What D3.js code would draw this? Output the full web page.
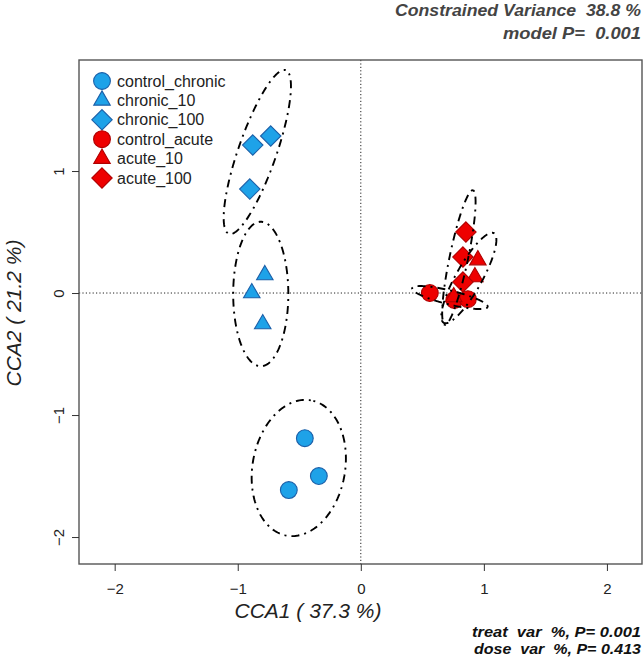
<!DOCTYPE html>
<html><head><meta charset="utf-8">
<script src="https://cdn.jsdelivr.net/npm/d3@7"></script>
<style>
body{margin:0;background:#fff}
svg{display:block}
text{font-family:"Liberation Sans",Arial,Helvetica,sans-serif}
</style>
</head><body>
<svg id="chart" width="644" height="662"></svg>
<script>
// ---------------- data ----------------
const groups = ["control_chronic","chronic_10","chronic_100","control_acute","acute_10","acute_100"];
const groupTreat = ["chronic","chronic","chronic","acute","acute","acute"];
const groupDose = ["control","10","100","control","10","100"];

const siteGroup = [
  "control_chronic","control_chronic","control_chronic",
  "chronic_10","chronic_10","chronic_10",
  "chronic_100","chronic_100","chronic_100",
  "control_acute","control_acute","control_acute",
  "acute_10","acute_10","acute_10",
  "acute_100","acute_100","acute_100"
];
const cca1 = [-0.455,-0.341,-0.585, -0.78,-0.886,-0.797, -0.878,-0.732,-0.902, 0.561,0.76,0.87, 0.951,0.927,0.755, 0.854,0.830,0.830];
const cca2 = [-1.19,-1.50,-1.615, 0.148,0.0,-0.254, 1.213,1.287,0.852, 0.0,-0.057,-0.05, 0.27,0.131,-0.033, 0.50,0.295,0.09];

// ellipses (centre, semi-axes, major-axis angle in degrees)
const ellGroup = ["control_chronic","chronic_10","chronic_100","control_acute","acute_10","acute_100"];
const ellCx = [-0.504,-0.813,-0.841,0.724,0.878,0.797];
const ellCy = [-1.434,-0.008,1.156,-0.037,0.123,0.291];
const ellA  = [0.563,0.592,0.709,0.316,0.42,0.563];
const ellB  = [0.376,0.224,0.155,0.057,0.106,0.075];
const ellAngle = [80,90,71,-14,61,78.3];

const xTicks = [-2,-1,0,1,2];
const yTicks = [-2,-1,0,1];
const xTitle = "CCA1 ( 37.3 %)";
const yTitle = "CCA2 ( 21.2 %)";
const topLines = ["Constrained Variance  38.8 %","model P=  0.001"];
const bottomLines = ["treat  var  %, P= 0.001","dose  var  %, P= 0.413"];

// ---------------- style ----------------
const fillCol = {chronic:"#1ea2e8", acute:"#ee0000"};
const strokeCol = {chronic:"#1c5fa8", acute:"#b00000"};
const doseShape = {control:"circle", "10":"triangle", "100":"diamond"};
const topWidths = [246, 138];
const bottomWidths = [169, 167];

const svg = d3.select("#chart");
const L = 79, R = 642, T = 60, B = 564;
const x = d3.scaleLinear().domain([-2.29, 2.285]).range([L, R]);
const y = d3.scaleLinear().domain([-2.221, 1.91]).range([B, T]);

function shapePath(shape){
  if(shape==="circle"){ const r=8.4; return `M${-r},0A${r},${r} 0 1,0 ${r},0A${r},${r} 0 1,0 ${-r},0Z`; }
  if(shape==="triangle"){ const s=16.5, h=s*Math.sqrt(3)/2; return `M0,${-h*2/3}L${s/2},${h/3}L${-s/2},${h/3}Z`; }
  const d=10.2; return `M0,${-d}L${d},0L0,${d}L${-d},0Z`;
}
const gIdx = g => groups.indexOf(g);

// zero reference lines
svg.append("line").attr("x1",x(0)).attr("x2",x(0)).attr("y1",T).attr("y2",B)
  .attr("stroke","#222").attr("stroke-width",1).attr("stroke-dasharray","1.2,2.2");
svg.append("line").attr("x1",L).attr("x2",R).attr("y1",y(0)).attr("y2",y(0))
  .attr("stroke","#222").attr("stroke-width",1).attr("stroke-dasharray","1.2,2.2");

// points
const sites = cca1.map((v,i)=>({x:v,y:cca2[i],g:siteGroup[i]}));
svg.append("g").selectAll("path").data(sites).join("path")
  .attr("transform",d=>`translate(${x(d.x)},${y(d.y)})`)
  .attr("d",d=>shapePath(doseShape[groupDose[gIdx(d.g)]]))
  .attr("fill",d=>fillCol[groupTreat[gIdx(d.g)]])
  .attr("stroke",d=>strokeCol[groupTreat[gIdx(d.g)]])
  .attr("stroke-width",1.1);

// ellipses
const line = d3.line().x(d=>x(d[0])).y(d=>y(d[1])).curve(d3.curveLinearClosed);
const ells = ellGroup.map((g,i)=>{
  const phi = ellAngle[i]*Math.PI/180;
  return d3.range(0,360,2).map(t=>{
    const tt=t*Math.PI/180;
    const u=ellA[i]*Math.cos(tt), v=ellB[i]*Math.sin(tt);
    return [ellCx[i]+u*Math.cos(phi)-v*Math.sin(phi), ellCy[i]+u*Math.sin(phi)+v*Math.cos(phi)];
  });
});
svg.append("g").selectAll("path").data(ells).join("path")
  .attr("d",line).attr("fill","none").attr("stroke","#000")
  .attr("stroke-width",1.9).attr("stroke-dasharray","2,5,8,5");

// box
svg.append("rect").attr("x",L).attr("y",T).attr("width",R-L).attr("height",B-T)
  .attr("fill","none").attr("stroke","#555").attr("stroke-width",1.4);

// axes
const fmt = d3.format("d");
const gx = svg.append("g").attr("transform",`translate(0,${B})`)
  .call(d3.axisBottom(x).tickValues(xTicks).tickSize(7).tickPadding(12).tickFormat(d=>fmt(d)));
gx.select(".domain").remove();
gx.selectAll("line").attr("stroke","#333");
gx.selectAll("text").attr("font-size",15).attr("fill","#222").attr("font-family","Liberation Sans, Arial, sans-serif");

const gy = svg.append("g").attr("transform",`translate(${L},0)`)
  .call(d3.axisLeft(y).tickValues(yTicks).tickSize(7).tickFormat(d=>fmt(d)));
gy.select(".domain").remove();
gy.selectAll("line").attr("stroke","#333");
gy.selectAll("text").attr("x",null).attr("dy",null)
  .attr("transform","translate(-15,0) rotate(-90)")
  .attr("text-anchor","middle").attr("font-size",15).attr("fill","#222")
  .attr("font-family","Liberation Sans, Arial, sans-serif");

// axis titles
svg.append("text").attr("x",308).attr("y",618).attr("text-anchor","middle")
  .attr("font-size",21).attr("font-style","italic").attr("fill","#222").text(xTitle);
svg.append("text").attr("transform",`translate(21,${313}) rotate(-90)`).attr("text-anchor","middle")
  .attr("font-size",21).attr("font-style","italic").attr("fill","#222").text(yTitle);

// legend
const lg = svg.append("g");
groups.forEach((g,i)=>{
  const yy = 81 + i*19.4;
  lg.append("path").attr("transform",`translate(102,${yy})`)
    .attr("d",shapePath(doseShape[groupDose[i]]))
    .attr("fill",fillCol[groupTreat[i]]).attr("stroke",strokeCol[groupTreat[i]]).attr("stroke-width",1.1);
  lg.append("text").attr("x",117).attr("y",yy).attr("dy","0.35em")
    .attr("font-size",16).attr("fill","#222").text(g);
});

// annotations
topLines.forEach((t,i)=>{
  svg.append("text").attr("x",641).attr("y",16+i*23).attr("text-anchor","end")
    .attr("xml:space","preserve")
    .attr("textLength",topWidths[i]).attr("lengthAdjust","spacingAndGlyphs")
    .attr("font-size",16.5).attr("font-weight","bold").attr("font-style","italic")
    .attr("fill","#444").style("white-space","pre").text(t);
});
bottomLines.forEach((t,i)=>{
  svg.append("text").attr("x",641).attr("y",637+i*17).attr("text-anchor","end")
    .attr("xml:space","preserve")
    .attr("textLength",bottomWidths[i]).attr("lengthAdjust","spacingAndGlyphs")
    .attr("font-size",14).attr("font-weight","bold").attr("font-style","italic")
    .attr("fill","#111").style("white-space","pre").text(t);
});
</script>
</body></html>
